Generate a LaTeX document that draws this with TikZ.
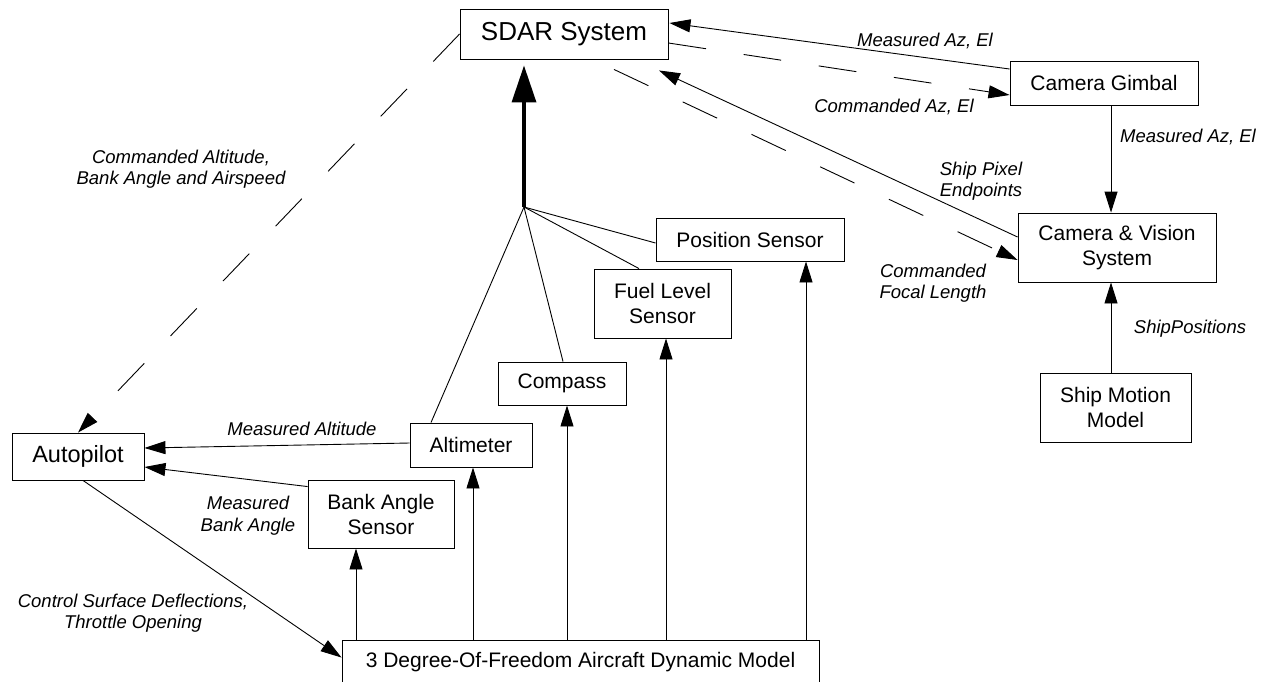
\documentclass[tikz,border=0pt]{standalone}
\usepackage{fontspec}
\setmainfont{Liberation Sans}
\usepackage{tikz}
\usetikzlibrary{arrows.meta, calc}

\tikzset{
  blk/.style={draw, line width=0.9pt, inner sep=0pt, align=center, font=\fontsize{21}{25}\selectfont},
  lbl/.style={inner sep=0.75pt, align=center, font=\fontsize{18.5}{21.5}\selectfont\itshape},
  ln/.style={line width=0.9pt},
  arr/.style={ln, -{Triangle[length=21pt,width=13pt]}},
  dsh/.style={arr, dash pattern=on 38pt off 38pt},
}

\begin{document}
\begin{tikzpicture}[x=1pt,y=1pt,yscale=-1,xscale=1]
\path[use as bounding box, clip] (0,0) rectangle (1265,681);

%Shape: Rectangle [sdar]
\node[blk, minimum width=208pt, minimum height=50pt, font=\fontsize{26}{30}\selectfont] (sdar) at (564,34) {SDAR System};
%Shape: Rectangle [gimbal]
\node[blk, minimum width=188pt, minimum height=44pt] (gimbal) at (1104,83) {Camera Gimbal};
%Shape: Rectangle [vision]
\node[blk, minimum width=198pt, minimum height=69pt] (vision) at (1117,247.5) {Camera \& Vision\\System};
%Shape: Rectangle [ship]
\node[blk, minimum width=151pt, minimum height=69pt] (ship) at (1115.5,407.5) {Ship Motion\\Model};
%Shape: Rectangle [possens]
\node[blk, minimum width=188pt, minimum height=43pt] (possens) at (750,239.5) {Position Sensor};
%Shape: Rectangle [fuel]
\node[blk, minimum width=137pt, minimum height=69pt] (fuel) at (662.5,303.5) {Fuel Level\\Sensor};
%Shape: Rectangle [compass]
\node[blk, minimum width=128pt, minimum height=43pt] (compass) at (562,383.5) {Compass};
%Shape: Rectangle [altim]
\node[blk, minimum width=122pt, minimum height=44pt] (altim) at (471,445) {Altimeter};
%Shape: Rectangle [autop]
\node[blk, minimum width=132pt, minimum height=47pt, font=\fontsize{23.5}{27}\selectfont] (autop) at (78,456.5) {Autopilot};
%Shape: Rectangle [bank]
\node[blk, minimum width=146pt, minimum height=68pt] (bank) at (381,514) {Bank Angle\\Sensor};
%Shape: Rectangle [dof]
\node[blk, minimum width=477pt, minimum height=44pt] (dof) at (580.5,662) {3 Degree-Of-Freedom Aircraft Dynamic Model};

%Shape: Point [hub]
\coordinate (hub) at (524,207);

%Straight Lines [gimbal to sdar]
\draw[arr] ($(gimbal.west)+(0,-14)$) -- ($(sdar.east)+(1,-11)$);
%Straight Lines [sdar to gimbal]
\draw[dsh] ($(sdar.east)+(0,9)$) -- ($(gimbal.west)+(0,12)$);
%Straight Lines [gimbal to vision]
\draw[arr] ($(gimbal.south)+(7,0)$) -- ($(vision.north)+(-6,0)$);
%Straight Lines [vision to sdar]
\draw[arr] ($(vision.west)+(0,-10.5)$) -- ($(sdar.south)+(95,11)$);
%Straight Lines [sdar to vision]
\draw[dsh] ($(sdar.south)+(50,10)$) -- ($(vision.west)+(0,12.5)$);
%Straight Lines [ship to vision]
\draw[arr] ($(ship.north)+(-4.5,0)$) -- ($(vision.south)+(-6,0)$);
%Straight Lines [sdar to autop]
\draw[dsh] (sdar.west) -- (autop.north);
%Straight Lines [altim to autop]
\draw[arr] ($(altim.west)+(0,-2)$) -- ($(autop.east)+(0,-8.5)$);
%Straight Lines [bank to autop]
\draw[arr] ($(bank.north west)+(0,7)$) -- ($(autop.east)+(0,10.5)$);
%Straight Lines [autop to dof]
\draw[arr] ($(autop.south)+(5,0)$) -- ($(dof.north west)+(0,18)$);

%Straight Lines [sensors to hub]
\draw[ln] ($(altim.north)+(-40,0)$) -- (hub);
\draw[ln] ($(compass.north)+(1,0)$) -- (hub);
\draw[ln] ($(fuel.north)+(-23.5,0)$) -- (hub);
\draw[ln] ($(possens.west)+(0,3.5)$) -- (hub);
%Straight Lines [hub to sdar]
\draw[line width=3.5pt, -{Triangle[length=37pt,width=24pt]}] (hub) -- ($(sdar.south)+(-40,6)$);

%Straight Lines [dof to sensors]
\coordinate (tbank) at ($(bank.south)+(-25,0)$);
\coordinate (taltim) at ($(altim.south)+(2,0)$);
\coordinate (tcompass) at ($(compass.south)+(5,0)$);
\coordinate (tfuel) at ($(fuel.south)+(3.5,0)$);
\coordinate (tpossens) at ($(possens.south)+(56,0)$);
\draw[arr] (tbank |- dof.north) -- (tbank);
\draw[arr] (taltim |- dof.north) -- (taltim);
\draw[arr] (tcompass |- dof.north) -- (tcompass);
\draw[arr] (tfuel |- dof.north) -- (tfuel);
\draw[arr] (tpossens |- dof.north) -- (tpossens);

% Text Node
\node[lbl] (lmeasaz) at (925,41) {Measured Az, El};
% Text Node
\node[lbl] (lcmdaz) at (894,107) {Commanded Az, El};
% Text Node
\node[lbl] (lmeasaz2) at (1188,137) {Measured Az, El};
% Text Node
\node[lbl] (lpixel) at (981,181) {Ship Pixel\\Endpoints};
% Text Node
\node[lbl] (lfocal) at (933,283) {Commanded\\Focal Length};
% Text Node
\node[lbl] (lshippos) at (1190,329) {ShipPositions};
% Text Node
\node[lbl] (lcmdalt) at (181,169) {Commanded Altitude,\\Bank Angle and Airspeed};
% Text Node
\node[lbl] (lmeasalt) at (302,429) {Measured Altitude};
% Text Node
\node[lbl] (lmeasbank) at (248,515.5) {Measured\\Bank Angle};
% Text Node
\node[lbl] (lctrl) at (133,613) {Control Surface Deflections,\\Throttle Opening};

\end{tikzpicture}
\end{document}
